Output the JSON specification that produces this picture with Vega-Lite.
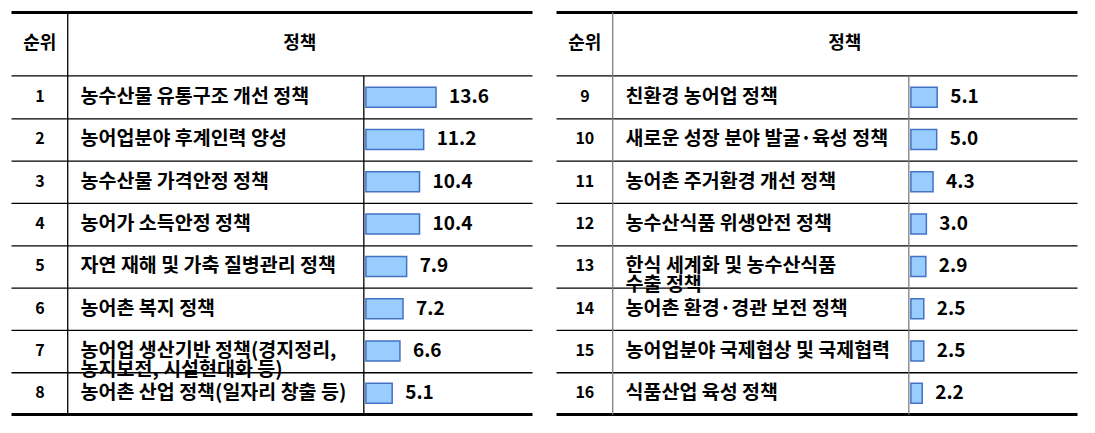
{
  "$schema": "https://vega.github.io/schema/vega-lite/v6.json",
  "background": "white",
  "padding": {"left": 9.5, "top": 7.5, "right": 0, "bottom": 0},
  "spacing": 20,
  "config": {"view": {"stroke": null}, "font": "Noto Sans CJK KR"},
  "datasets": {
    "policies": [
      {"rank": 1, "policy": "농수산물 유통구조 개선 정책", "value": 13.6},
      {"rank": 2, "policy": "농어업분야 후계인력 양성", "value": 11.2},
      {"rank": 3, "policy": "농수산물 가격안정 정책", "value": 10.4},
      {"rank": 4, "policy": "농어가 소득안정 정책", "value": 10.4},
      {"rank": 5, "policy": "자연 재해 및 가축 질병관리 정책", "value": 7.9},
      {"rank": 6, "policy": "농어촌 복지 정책", "value": 7.2},
      {"rank": 7, "policy": "농어업 생산기반 정책(경지정리,\n농지보전, 시설현대화 등)", "value": 6.6},
      {"rank": 8, "policy": "농어촌 산업 정책(일자리 창출 등)", "value": 5.1},
      {"rank": 9, "policy": "친환경 농어업 정책", "value": 5.1},
      {"rank": 10, "policy": "새로운 성장 분야 발굴·육성 정책", "value": 5.0},
      {"rank": 11, "policy": "농어촌 주거환경 개선 정책", "value": 4.3},
      {"rank": 12, "policy": "농수산식품 위생안전 정책", "value": 3.0},
      {"rank": 13, "policy": "한식 세계화 및 농수산식품\n수출 정책", "value": 2.9},
      {"rank": 14, "policy": "농어촌 환경·경관 보전 정책", "value": 2.5},
      {"rank": 15, "policy": "농어업분야 국제협상 및 국제협력", "value": 2.5},
      {"rank": 16, "policy": "식품산업 육성 정책", "value": 2.2}
    ],
    "one": [{}]
  },
  "hconcat": [
    {
      "width": 521,
      "height": 412,
      "layer": [
        {
          "data": {"name": "one"},
          "mark": {"type": "rule", "color": "black", "strokeWidth": 3},
          "encoding": {
            "x": {"datum": -68.7, "type": "quantitative", "scale": {"domain": [-68.7, 32.3], "nice": false, "zero": false}, "axis": null},
            "x2": {"datum": 32.3},
            "y": {"datum": -1, "type": "quantitative", "scale": {"domain": [-1, 8.5], "reverse": true, "nice": false, "zero": false}, "axis": null}
          }
        },
        {
          "data": {"name": "one"},
          "mark": {"type": "rule", "color": "black", "strokeWidth": 1.3},
          "encoding": {
            "x": {"datum": -68.7, "type": "quantitative", "scale": {"domain": [-68.7, 32.3], "nice": false, "zero": false}, "axis": null},
            "x2": {"datum": 32.3},
            "y": {"datum": 0.5, "type": "quantitative", "scale": {"domain": [-1, 8.5], "reverse": true, "nice": false, "zero": false}, "axis": null}
          }
        },
        {
          "data": {"name": "policies"},
          "transform": [{"filter": "datum.rank < 8"}],
          "mark": {"type": "rule", "color": "black", "strokeWidth": 1.3, "yOffset": 21.7},
          "encoding": {
            "x": {"datum": -68.7, "type": "quantitative", "scale": {"domain": [-68.7, 32.3], "nice": false, "zero": false}, "axis": null},
            "x2": {"datum": 32.3},
            "y": {"field": "rank", "type": "quantitative", "scale": {"domain": [-1, 8.5], "reverse": true, "nice": false, "zero": false}, "axis": null}
          }
        },
        {
          "data": {"name": "one"},
          "mark": {"type": "rule", "color": "black", "strokeWidth": 3},
          "encoding": {
            "x": {"datum": -68.7, "type": "quantitative", "scale": {"domain": [-68.7, 32.3], "nice": false, "zero": false}, "axis": null},
            "x2": {"datum": 32.3},
            "y": {"datum": 8.5, "type": "quantitative", "scale": {"domain": [-1, 8.5], "reverse": true, "nice": false, "zero": false}, "axis": null}
          }
        },
        {
          "data": {"name": "one"},
          "mark": {"type": "rule", "color": "black", "strokeWidth": 1.3},
          "encoding": {
            "x": {"datum": -57.8, "type": "quantitative", "scale": {"domain": [-68.7, 32.3], "nice": false, "zero": false}, "axis": null},
            "y": {"datum": -1, "type": "quantitative", "scale": {"domain": [-1, 8.5], "reverse": true, "nice": false, "zero": false}, "axis": null},
            "y2": {"datum": 8.5}
          }
        },
        {
          "data": {"name": "one"},
          "mark": {"type": "rule", "color": "black", "strokeWidth": 1.3},
          "encoding": {
            "x": {"datum": -0.4, "type": "quantitative", "scale": {"domain": [-68.7, 32.3], "nice": false, "zero": false}, "axis": null},
            "y": {"datum": 0.5, "type": "quantitative", "scale": {"domain": [-1, 8.5], "reverse": true, "nice": false, "zero": false}, "axis": null},
            "y2": {"datum": 8.5}
          }
        },
        {
          "data": {"name": "one"},
          "mark": {"type": "text", "text": "순위", "fontSize": 18, "fontWeight": "bold", "align": "center", "baseline": "middle", "color": "black"},
          "encoding": {
            "x": {"datum": -63.2, "type": "quantitative", "scale": {"domain": [-68.7, 32.3], "nice": false, "zero": false}, "axis": null},
            "y": {"datum": -0.25, "type": "quantitative", "scale": {"domain": [-1, 8.5], "reverse": true, "nice": false, "zero": false}, "axis": null}
          }
        },
        {
          "data": {"name": "one"},
          "mark": {"type": "text", "text": "정책", "fontSize": 18, "fontWeight": "bold", "align": "center", "baseline": "middle", "color": "black"},
          "encoding": {
            "x": {"datum": -12.8, "type": "quantitative", "scale": {"domain": [-68.7, 32.3], "nice": false, "zero": false}, "axis": null},
            "y": {"datum": -0.25, "type": "quantitative", "scale": {"domain": [-1, 8.5], "reverse": true, "nice": false, "zero": false}, "axis": null}
          }
        },
        {
          "data": {"name": "policies"},
          "transform": [{"filter": "datum.rank <= 8"}],
          "mark": {"type": "text", "fontSize": 16, "fontWeight": "bold", "align": "center", "baseline": "middle", "color": "black"},
          "encoding": {
            "x": {"datum": -63.2, "type": "quantitative", "scale": {"domain": [-68.7, 32.3], "nice": false, "zero": false}, "axis": null},
            "y": {"field": "rank", "type": "quantitative", "scale": {"domain": [-1, 8.5], "reverse": true, "nice": false, "zero": false}, "axis": null},
            "text": {"field": "rank", "type": "quantitative"}
          }
        },
        {
          "data": {"name": "policies"},
          "transform": [{"filter": "datum.rank <= 8"}],
          "mark": {"type": "text", "fontSize": 19.5, "fontWeight": "bold", "align": "left", "baseline": "middle", "color": "black", "lineBreak": "\n", "lineHeight": 19},
          "encoding": {
            "x": {"datum": -55.3, "type": "quantitative", "scale": {"domain": [-68.7, 32.3], "nice": false, "zero": false}, "axis": null},
            "y": {"field": "rank", "type": "quantitative", "scale": {"domain": [-1, 8.5], "reverse": true, "nice": false, "zero": false}, "axis": null},
            "text": {"field": "policy", "type": "nominal"}
          }
        },
        {
          "data": {"name": "policies"},
          "transform": [{"filter": "datum.rank <= 8"}],
          "mark": {"type": "bar", "orient": "horizontal", "height": 20, "color": "#99CCFF", "stroke": "#4472C4", "strokeWidth": 1.5},
          "encoding": {
            "x": {"field": "value", "type": "quantitative", "scale": {"domain": [-68.7, 32.3], "nice": false, "zero": false}, "axis": null},
            "x2": {"datum": 0},
            "y": {"field": "rank", "type": "quantitative", "scale": {"domain": [-1, 8.5], "reverse": true, "nice": false, "zero": false}, "axis": null}
          }
        },
        {
          "data": {"name": "policies"},
          "transform": [{"filter": "datum.rank <= 8"}],
          "mark": {"type": "text", "fontSize": 19, "fontWeight": "bold", "align": "left", "baseline": "middle", "dx": 13, "color": "black"},
          "encoding": {
            "x": {"field": "value", "type": "quantitative", "scale": {"domain": [-68.7, 32.3], "nice": false, "zero": false}, "axis": null},
            "y": {"field": "rank", "type": "quantitative", "scale": {"domain": [-1, 8.5], "reverse": true, "nice": false, "zero": false}, "axis": null},
            "text": {"field": "value", "type": "quantitative", "format": ".1f"}
          }
        }
      ]
    },
    {
      "width": 521,
      "height": 412,
      "layer": [
        {
          "data": {"name": "one"},
          "mark": {"type": "rule", "color": "black", "strokeWidth": 3},
          "encoding": {
            "x": {"datum": -68.7, "type": "quantitative", "scale": {"domain": [-68.7, 32.3], "nice": false, "zero": false}, "axis": null},
            "x2": {"datum": 32.3},
            "y": {"datum": 7, "type": "quantitative", "scale": {"domain": [7, 16.5], "reverse": true, "nice": false, "zero": false}, "axis": null}
          }
        },
        {
          "data": {"name": "one"},
          "mark": {"type": "rule", "color": "black", "strokeWidth": 1.3},
          "encoding": {
            "x": {"datum": -68.7, "type": "quantitative", "scale": {"domain": [-68.7, 32.3], "nice": false, "zero": false}, "axis": null},
            "x2": {"datum": 32.3},
            "y": {"datum": 8.5, "type": "quantitative", "scale": {"domain": [7, 16.5], "reverse": true, "nice": false, "zero": false}, "axis": null}
          }
        },
        {
          "data": {"name": "policies"},
          "transform": [{"filter": "datum.rank > 8 && datum.rank < 16"}],
          "mark": {"type": "rule", "color": "black", "strokeWidth": 1.3, "yOffset": 21.7},
          "encoding": {
            "x": {"datum": -68.7, "type": "quantitative", "scale": {"domain": [-68.7, 32.3], "nice": false, "zero": false}, "axis": null},
            "x2": {"datum": 32.3},
            "y": {"field": "rank", "type": "quantitative", "scale": {"domain": [7, 16.5], "reverse": true, "nice": false, "zero": false}, "axis": null}
          }
        },
        {
          "data": {"name": "one"},
          "mark": {"type": "rule", "color": "black", "strokeWidth": 3},
          "encoding": {
            "x": {"datum": -68.7, "type": "quantitative", "scale": {"domain": [-68.7, 32.3], "nice": false, "zero": false}, "axis": null},
            "x2": {"datum": 32.3},
            "y": {"datum": 16.5, "type": "quantitative", "scale": {"domain": [7, 16.5], "reverse": true, "nice": false, "zero": false}, "axis": null}
          }
        },
        {
          "data": {"name": "one"},
          "mark": {"type": "rule", "color": "#7f7f7f", "strokeWidth": 1.3},
          "encoding": {
            "x": {"datum": -57.8, "type": "quantitative", "scale": {"domain": [-68.7, 32.3], "nice": false, "zero": false}, "axis": null},
            "y": {"datum": 7, "type": "quantitative", "scale": {"domain": [7, 16.5], "reverse": true, "nice": false, "zero": false}, "axis": null},
            "y2": {"datum": 16.5}
          }
        },
        {
          "data": {"name": "one"},
          "mark": {"type": "rule", "color": "#7f7f7f", "strokeWidth": 1.3},
          "encoding": {
            "x": {"datum": -0.4, "type": "quantitative", "scale": {"domain": [-68.7, 32.3], "nice": false, "zero": false}, "axis": null},
            "y": {"datum": 8.5, "type": "quantitative", "scale": {"domain": [7, 16.5], "reverse": true, "nice": false, "zero": false}, "axis": null},
            "y2": {"datum": 16.5}
          }
        },
        {
          "data": {"name": "one"},
          "mark": {"type": "text", "text": "순위", "fontSize": 18, "fontWeight": "bold", "align": "center", "baseline": "middle", "color": "black"},
          "encoding": {
            "x": {"datum": -63.2, "type": "quantitative", "scale": {"domain": [-68.7, 32.3], "nice": false, "zero": false}, "axis": null},
            "y": {"datum": 7.75, "type": "quantitative", "scale": {"domain": [7, 16.5], "reverse": true, "nice": false, "zero": false}, "axis": null}
          }
        },
        {
          "data": {"name": "one"},
          "mark": {"type": "text", "text": "정책", "fontSize": 18, "fontWeight": "bold", "align": "center", "baseline": "middle", "color": "black"},
          "encoding": {
            "x": {"datum": -12.8, "type": "quantitative", "scale": {"domain": [-68.7, 32.3], "nice": false, "zero": false}, "axis": null},
            "y": {"datum": 7.75, "type": "quantitative", "scale": {"domain": [7, 16.5], "reverse": true, "nice": false, "zero": false}, "axis": null}
          }
        },
        {
          "data": {"name": "policies"},
          "transform": [{"filter": "datum.rank > 8"}],
          "mark": {"type": "text", "fontSize": 16, "fontWeight": "bold", "align": "center", "baseline": "middle", "color": "black"},
          "encoding": {
            "x": {"datum": -63.2, "type": "quantitative", "scale": {"domain": [-68.7, 32.3], "nice": false, "zero": false}, "axis": null},
            "y": {"field": "rank", "type": "quantitative", "scale": {"domain": [7, 16.5], "reverse": true, "nice": false, "zero": false}, "axis": null},
            "text": {"field": "rank", "type": "quantitative"}
          }
        },
        {
          "data": {"name": "policies"},
          "transform": [{"filter": "datum.rank > 8"}],
          "mark": {"type": "text", "fontSize": 19.5, "fontWeight": "bold", "align": "left", "baseline": "middle", "color": "black", "lineBreak": "\n", "lineHeight": 19},
          "encoding": {
            "x": {"datum": -55.3, "type": "quantitative", "scale": {"domain": [-68.7, 32.3], "nice": false, "zero": false}, "axis": null},
            "y": {"field": "rank", "type": "quantitative", "scale": {"domain": [7, 16.5], "reverse": true, "nice": false, "zero": false}, "axis": null},
            "text": {"field": "policy", "type": "nominal"}
          }
        },
        {
          "data": {"name": "policies"},
          "transform": [{"filter": "datum.rank > 8"}],
          "mark": {"type": "bar", "orient": "horizontal", "height": 20, "color": "#99CCFF", "stroke": "#4472C4", "strokeWidth": 1.5},
          "encoding": {
            "x": {"field": "value", "type": "quantitative", "scale": {"domain": [-68.7, 32.3], "nice": false, "zero": false}, "axis": null},
            "x2": {"datum": 0},
            "y": {"field": "rank", "type": "quantitative", "scale": {"domain": [7, 16.5], "reverse": true, "nice": false, "zero": false}, "axis": null}
          }
        },
        {
          "data": {"name": "policies"},
          "transform": [{"filter": "datum.rank > 8"}],
          "mark": {"type": "text", "fontSize": 19, "fontWeight": "bold", "align": "left", "baseline": "middle", "dx": 13, "color": "black"},
          "encoding": {
            "x": {"field": "value", "type": "quantitative", "scale": {"domain": [-68.7, 32.3], "nice": false, "zero": false}, "axis": null},
            "y": {"field": "rank", "type": "quantitative", "scale": {"domain": [7, 16.5], "reverse": true, "nice": false, "zero": false}, "axis": null},
            "text": {"field": "value", "type": "quantitative", "format": ".1f"}
          }
        }
      ]
    }
  ]
}
